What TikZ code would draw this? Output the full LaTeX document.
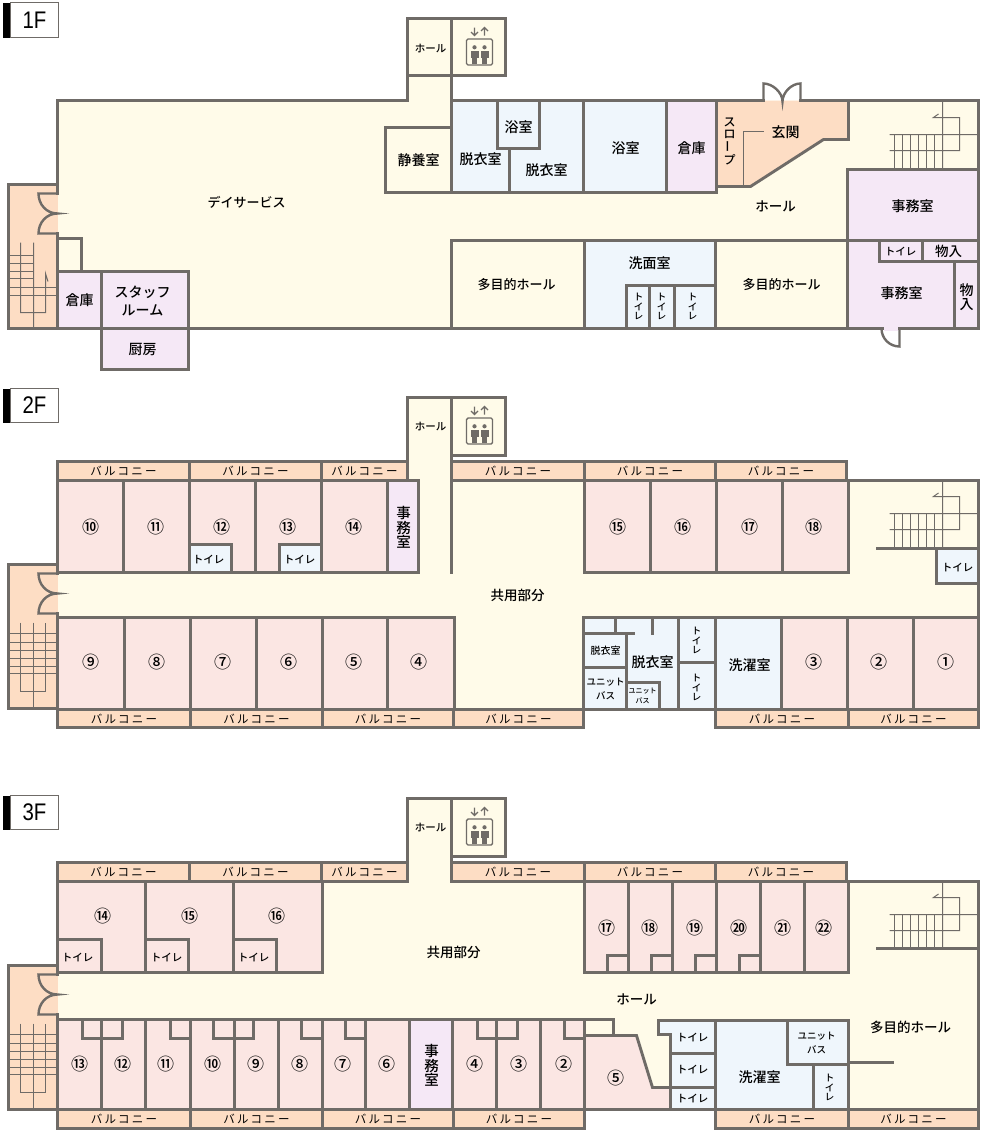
\documentclass[tikz,border=0pt]{standalone}
\usepackage{fontspec}
\setmainfont{Liberation Sans}
\newfontfamily\jp{Noto Sans CJK JP Medium}
\newfontfamily\jpb{Noto Sans CJK JP Medium}
\newfontfamily\jpwide[LetterSpace=20]{Noto Sans CJK JP}
\definecolor{wallc}{HTML}{6F6B67}
\definecolor{creamc}{HTML}{FFFBE9}
\definecolor{orangec}{HTML}{FDDDC4}
\definecolor{pinkc}{HTML}{FBE6E3}
\definecolor{purplec}{HTML}{F5E8F6}
\definecolor{bluec}{HTML}{EFF6FC}
\tikzset{
  wall/.style={draw=wallc,line width=2.9pt,line join=miter,line cap=rect},
  diagwall/.style={draw=wallc,line width=2.9pt,line join=miter,line cap=rect},
  doorline/.style={draw=wallc,line width=2.4pt,line join=miter,line cap=butt},
  thinline/.style={draw=wallc,line width=1pt},
  lbl/.style={inner sep=0pt,align=center,text=black},
  balc/.style={inner sep=0pt,text=black,font=\jpwide\fontsize{11.5}{12}\selectfont},
  flabel/.style={inner sep=0pt,font=\fontsize{24}{24}\selectfont,text=black},
}
\newcommand\lab[5]{\node[lbl,font={\jp\fontsize{#4}{#4}\selectfont}] (#1) at (#2,#3) {#5};}
\newcommand\numr[4]{\node[lbl,font={\jpb\fontsize{17}{17}\selectfont}] (#1) at (#2,#3) {#4};}
\newcommand\roomrect[5]{\draw[wall,fill=#1] (#2,#3) rectangle (#4,#5);}
\newcommand\balcony[5]{\draw[wall,fill=orangec] (#2,#3) rectangle node[balc] (#1) {バルコニー} (#4,#5);}
\newcommand\vbar{\rotatebox{90}{ー}}
% lift icon, drawn at the 1F position
\newcommand\evicon{%
  \draw[draw=wallc,line width=1.4pt,rounded corners=1.5pt] (466,38.5) rectangle (492,64.5);
  \draw[draw=wallc,line width=1.3pt] (474,27)--(474,35) (470.5,31.5)--(474,35)--(477.5,31.5);
  \draw[draw=wallc,line width=1.3pt] (484,35)--(484,27) (480.5,30.5)--(484,27)--(487.5,30.5);
  \foreach \px in {474,484}{
    \fill[wallc] (\px,46.8) circle (2.1);
    \fill[wallc] (\px-4,50) rectangle (\px+4,57);
    \fill[wallc] (\px-2.7,57) rectangle (\px+2.7,63);
  }%
}
% right-hand stairs, drawn at the 1F position
\newcommand\stairR{%
  \draw[thinline] (942,100)--(942,168) (889,134)--(978,134) (889,150)--(959,150)--(959,117)--(933,117)--(938,113.5);
  \foreach \sx in {894,902,910,918,926,934}{\draw[thinline] (\sx,134)--(\sx,168);}%
}
% left-hand stairwell walls and door, drawn at the 1F position
\newcommand\stairbox{%
  \fill[orangec] (8,184) rectangle (57,328);
  \draw[wall] (57,193)--(57,184)--(8,184)--(8,328)--(57,328)--(57,233);
  \draw[doorline] (57,193)--(38,193) .. controls (38,204) and (46,213) .. (57,213)
     .. controls (46,213) and (38,222) .. (38,233)--(57,233);
}
\newcommand\stairlinesB{%
  \draw[thinline] (20,622)--(20,691)--(45,691)--(45,622) (33,622)--(33,708);
  \foreach \sy in {633,642,650,658,666,673}{\draw[thinline] (8,\sy)--(57,\sy);}%
}
\begin{document}
\begin{tikzpicture}[x=1pt,y=-1pt]
\useasboundingbox (0,0) rectangle (984,1135);
\begin{scope}[shift={(0.5,0.5)}]

%%%%%%%%%%%%%%%%%%%%%%%%%%%% 1F
\fill[black] (2,2) rectangle (10,37);
\draw[draw=wallc,line width=.8pt,fill=white] (10,2) rectangle node[flabel] (f1) {\scalebox{0.85}[1]{1F}} (58,37);

\fill[creamc] (57,100) -- (407,100) -- (407,75) -- (451,75) -- (451,100) -- (978,100) -- (978,328) -- (57,328) -- cycle;
\stairbox
\draw[wall] (57,193)--(57,100)--(407,100)--(407,75);
\draw[wall] (451,75)--(451,100)--(763,100);
\draw[wall] (800,100)--(978,100)--(978,328)--(57,328);
\roomrect{creamc}{407}{18}{451}{75}
\roomrect{creamc}{451}{18}{505}{75}
\evicon
% left stairs
\draw[thinline] (20,242)--(20,312)--(45,312)--(45,273)--(47.5,281) (33,242)--(33,328);
\foreach \sy in {255,263,271,278}{\draw[thinline] (8,\sy)--(33,\sy);}
\foreach \sy in {287,295}{\draw[thinline] (8,\sy)--(57,\sy);}
\roomrect{creamc}{57}{238}{81}{271}
\roomrect{purplec}{57}{271}{101}{328}
\roomrect{purplec}{101}{271}{188}{328}
\roomrect{purplec}{101}{328}{188}{369}
\roomrect{creamc}{385}{127}{451}{192}
\roomrect{bluec}{451}{100}{583}{192}
\roomrect{bluec}{497}{100}{539}{148}
\draw[wall] (509,148)--(509,192);
\roomrect{bluec}{583}{100}{666}{192}
\roomrect{purplec}{666}{100}{716}{192}
% entrance
\fill[orangec] (716,100)--(848,100)--(848,139)--(823,139)--(750,186)--(716,186)--cycle;
\draw[diagwall] (763,100)--(716,100)--(716,186)--(750,186)--(823,139)--(848,139)--(848,100)--(800,100);
\draw[doorline] (763,100)--(763,83) .. controls (772,83) and (782,92) .. (782,101)
   .. controls (782,92) and (791,83) .. (800,83)--(800,100);
\draw[thinline] (743,186)--(743,131)--(763,131);
\stairR
\roomrect{purplec}{847}{169}{978}{240}
\roomrect{purplec}{847}{240}{978}{328}
\roomrect{purplec}{879}{240}{922}{261}
\roomrect{purplec}{922}{240}{978}{261}
\roomrect{purplec}{954}{261}{978}{328}
\fill[purplec] (883,326) rectangle (897,330);
\draw[doorline] (881,328) .. controls (881,338) and (889,346) .. (899,346) -- (899,328);
\roomrect{creamc}{451}{240}{584}{328}
\roomrect{bluec}{584}{240}{715}{328}
\roomrect{bluec}{626}{285}{715}{328}
\draw[wall] (649,285)--(649,328) (674,285)--(674,328);
\roomrect{creamc}{715}{240}{847}{328}

\lab{a1}{246}{202}{13}{デイサービス}
\lab{a2}{430}{48}{10.5}{ホール}
\lab{a3}{418}{160}{14}{静養室}
\lab{a4}{480}{159}{14}{脱衣室}
\lab{a5}{518}{127}{14}{浴室}
\lab{a6}{546}{170}{14}{脱衣室}
\lab{a7}{625}{148}{14}{浴室}
\lab{a8}{691}{148}{14}{倉庫}
\lab{a9}{729}{141}{12}{ス\\ロ\\\vbar\\プ}
\lab{a10}{785}{132}{14}{玄関}
\lab{a11}{775}{206}{13.5}{ホール}
\lab{a12}{912}{206}{14}{事務室}
\lab{a13}{900}{251}{10.5}{トイレ}
\lab{a14}{948}{251}{13.5}{物入}
\lab{a15}{901}{293}{14}{事務室}
\lab{a16}{966}{297}{14}{物\\入}
\lab{a17}{516}{284}{13}{多目的ホール}
\lab{a18}{649}{263}{14}{洗面室}
\lab{a19}{638}{306}{9.5}{ト\\イ\\レ}
\lab{a20}{661}{306}{9.5}{ト\\イ\\レ}
\lab{a21}{692}{306}{9.5}{ト\\イ\\レ}
\lab{a22}{781}{284}{13}{多目的ホール}
\lab{a23}{79}{300}{14}{倉庫}
\node[lbl,font={\jp\fontsize{14}{18}\selectfont}] (a24) at (142,301) {スタッフ\\ルーム};
\lab{a25}{142}{349}{14}{厨房}

%%%%%%%%%%%%%%%%%%%%%%%%%%%% 2F
\fill[black] (2,388) rectangle (10,422);
\draw[draw=wallc,line width=.8pt,fill=white] (10,388) rectangle node[flabel] (f2) {\scalebox{0.85}[1]{2F}} (58,422);

\fill[creamc] (407,397) rectangle (451,480);
\fill[creamc] (57,480) rectangle (978,709);
\begin{scope}[shift={(0,380)}]\stairbox\end{scope}
\stairlinesB
\draw[wall] (407,480)--(407,397)--(451,397)--(451,572);
\draw[wall] (847,480)--(978,480)--(978,709);
\roomrect{creamc}{451}{397}{505}{455}
\begin{scope}[shift={(0,379)}]\evicon\stairR\end{scope}
\draw[wall] (877,548)--(978,548);
\roomrect{bluec}{936}{548}{978}{583}
\balcony{b1}{57}{461}{189}{480}
\balcony{b2}{189}{461}{321}{480}
\balcony{b3}{321}{461}{407}{480}
\balcony{b4}{451}{461}{584}{480}
\balcony{b5}{584}{461}{715}{480}
\balcony{b6}{715}{461}{846}{480}
\roomrect{pinkc}{57}{480}{123}{572}
\roomrect{pinkc}{123}{480}{189}{572}
\roomrect{pinkc}{189}{480}{255}{572}
\roomrect{pinkc}{255}{480}{321}{572}
\roomrect{pinkc}{321}{480}{387}{572}
\roomrect{purplec}{387}{480}{418}{572}
\roomrect{bluec}{189}{544}{231}{572}
\roomrect{bluec}{279}{544}{321}{572}
\roomrect{pinkc}{584}{480}{650}{572}
\roomrect{pinkc}{650}{480}{716}{572}
\roomrect{pinkc}{716}{480}{782}{572}
\roomrect{pinkc}{782}{480}{848}{572}
\roomrect{pinkc}{57}{617}{124}{709}
\roomrect{pinkc}{124}{617}{190}{709}
\roomrect{pinkc}{190}{617}{256}{709}
\roomrect{pinkc}{256}{617}{322}{709}
\roomrect{pinkc}{322}{617}{387}{709}
\roomrect{pinkc}{387}{617}{454}{709}
\roomrect{bluec}{583}{617}{715}{709}
\draw[wall] (615,617)--(615,633) (652,617)--(652,633) (583,633)--(633,633) (626,633)--(626,709) (583,667)--(626,667) (678,617)--(678,709) (678,662)--(715,662);
\roomrect{bluec}{626}{682}{659}{709}
\roomrect{bluec}{715}{617}{781}{709}
\roomrect{pinkc}{781}{617}{847}{709}
\roomrect{pinkc}{847}{617}{913}{709}
\roomrect{pinkc}{913}{617}{978}{709}
\balcony{b7}{57}{709}{190}{727}
\balcony{b8}{190}{709}{322}{727}
\balcony{b9}{322}{709}{453}{727}
\balcony{b10}{453}{709}{583}{727}
\balcony{b11}{715}{709}{848}{727}
\balcony{b12}{848}{709}{978}{727}

\lab{c0}{430}{426}{10.5}{ホール}
\numr{c1}{90}{527}{⑩}
\numr{c2}{155}{527}{⑪}
\numr{c3}{221}{527}{⑫}
\numr{c4}{287}{527}{⑬}
\numr{c5}{353}{527}{⑭}
\lab{c6}{403}{527}{14.5}{事\\務\\室}
\numr{c7}{617}{527}{⑮}
\numr{c8}{682}{527}{⑯}
\numr{c9}{749}{527}{⑰}
\numr{c10}{813}{527}{⑱}
\lab{c11}{208}{559}{10.5}{トイレ}
\lab{c12}{299}{559}{10.5}{トイレ}
\lab{c13}{957}{567}{10.5}{トイレ}
\lab{c14}{517}{595}{13.5}{共用部分}
\numr{c15}{90}{662}{⑨}
\numr{c16}{156}{662}{⑧}
\numr{c17}{222}{662}{⑦}
\numr{c18}{288}{662}{⑥}
\numr{c19}{353}{662}{⑤}
\numr{c20}{418}{662}{④}
\lab{c21}{605}{650}{10}{脱衣室}
\node[lbl,font={\jp\fontsize{9.5}{14}\selectfont}] (c22) at (605,688) {ユニット\\バス};
\lab{c23}{652}{662}{14}{脱衣室}
\node[lbl,font={\jp\fontsize{7}{10}\selectfont}] (c24) at (642,695) {ユニット\\バス};
\lab{c25}{696}{640}{9.5}{ト\\イ\\レ}
\lab{c26}{696}{687}{9.5}{ト\\イ\\レ}
\lab{c27}{749}{665}{14}{洗濯室}
\numr{c28}{813}{662}{③}
\numr{c29}{878}{662}{②}
\numr{c30}{945}{662}{①}

%%%%%%%%%%%%%%%%%%%%%%%%%%%% 3F
\fill[black] (2,795) rectangle (10,829);
\draw[draw=wallc,line width=.8pt,fill=white] (10,795) rectangle node[flabel] (f3) {\scalebox{0.85}[1]{3F}} (58,829);

\fill[creamc] (407,798) rectangle (451,881);
\fill[creamc] (57,881) rectangle (978,1109);
\begin{scope}[shift={(0,781)}]\stairbox\end{scope}
\begin{scope}[shift={(0,401)}]\stairlinesB\end{scope}
\draw[wall] (407,881)--(407,798)--(451,798)--(451,881);
\draw[wall] (848,881)--(978,881)--(978,1109);
\roomrect{creamc}{451}{798}{505}{856}
\begin{scope}[shift={(0,780)}]\evicon\stairR\end{scope}
\draw[wall] (877,948)--(978,948);
\balcony{d1}{57}{862}{189}{881}
\balcony{d2}{189}{862}{321}{881}
\balcony{d3}{321}{862}{407}{881}
\balcony{d4}{451}{862}{584}{881}
\balcony{d5}{584}{862}{715}{881}
\balcony{d6}{715}{862}{846}{881}
\roomrect{pinkc}{57}{881}{145}{972}
\roomrect{pinkc}{145}{881}{233}{972}
\roomrect{pinkc}{233}{881}{322}{972}
\draw[wall] (57,939)--(101,939)--(101,972) (145,939)--(188,939)--(188,972) (233,939)--(276,939)--(276,972);
\roomrect{pinkc}{584}{881}{628}{972}
\roomrect{pinkc}{628}{881}{672}{972}
\roomrect{pinkc}{672}{881}{716}{972}
\roomrect{pinkc}{716}{881}{760}{972}
\roomrect{pinkc}{760}{881}{804}{972}
\roomrect{pinkc}{804}{881}{848}{972}
\draw[wall] (607,972)--(607,955)--(628,955) (651,972)--(651,955)--(672,955) (695,972)--(695,955)--(716,955) (739,972)--(739,955)--(760,955);
\roomrect{pinkc}{57}{1019}{101}{1109}
\roomrect{pinkc}{101}{1019}{145}{1109}
\roomrect{pinkc}{145}{1019}{190}{1109}
\roomrect{pinkc}{190}{1019}{234}{1109}
\roomrect{pinkc}{234}{1019}{278}{1109}
\roomrect{pinkc}{278}{1019}{322}{1109}
\roomrect{pinkc}{322}{1019}{365}{1109}
\roomrect{pinkc}{365}{1019}{409}{1109}
\roomrect{purplec}{409}{1019}{452}{1109}
\roomrect{pinkc}{452}{1019}{496}{1109}
\roomrect{pinkc}{496}{1019}{540}{1109}
\roomrect{pinkc}{540}{1019}{584}{1109}
\draw[wall] (82,1019)--(82,1038)--(122,1038)--(122,1019) (170,1019)--(170,1038)--(190,1038) (213,1019)--(213,1038)--(253,1038)--(253,1019) (301,1019)--(301,1038)--(322,1038) (345,1019)--(345,1038)--(365,1038) (477,1019)--(477,1038)--(517,1038)--(517,1019) (564,1019)--(564,1038)--(584,1038);
\roomrect{creamc}{584}{1019}{613}{1035}
\draw[diagwall,fill=pinkc] (584,1035)--(636,1035)--(652,1087)--(670,1087)--(670,1109)--(584,1109)--cycle;
\draw[wall,fill=bluec] (658,1020)--(715,1020)--(715,1109)--(670,1109)--(670,1034)--(658,1034)--cycle;
\draw[wall] (670,1053)--(715,1053) (670,1087)--(715,1087);
\roomrect{bluec}{715}{1020}{848}{1109}
\roomrect{bluec}{787}{1020}{848}{1064}
\roomrect{bluec}{813}{1064}{848}{1109}
\draw[wall] (848,1062)--(892,1062);
\balcony{d7}{57}{1109}{190}{1128}
\balcony{d8}{190}{1109}{322}{1128}
\balcony{d9}{322}{1109}{453}{1128}
\balcony{d10}{453}{1109}{584}{1128}
\balcony{d11}{715}{1109}{848}{1128}
\balcony{d12}{848}{1109}{978}{1128}

\lab{e0}{430}{827}{10.5}{ホール}
\numr{e1}{102}{916}{⑭}
\numr{e2}{189}{916}{⑮}
\numr{e3}{276}{916}{⑯}
\lab{e4}{77}{957}{10.5}{トイレ}
\lab{e5}{166}{957}{10.5}{トイレ}
\lab{e6}{253}{957}{10.5}{トイレ}
\lab{e7}{453}{952}{13.5}{共用部分}
\lab{e8}{636}{999}{13.5}{ホール}
\numr{e9}{606}{928}{⑰}
\numr{e10}{649}{928}{⑱}
\numr{e11}{694}{928}{⑲}
\numr{e12}{738}{928}{⑳}
\numr{e13}{782}{928}{㉑}
\numr{e14}{823}{928}{㉒}
\numr{e15}{79}{1064}{⑬}
\numr{e16}{122}{1064}{⑫}
\numr{e17}{165}{1064}{⑪}
\numr{e18}{212}{1064}{⑩}
\numr{e19}{255}{1064}{⑨}
\numr{e20}{299}{1064}{⑧}
\numr{e21}{342}{1064}{⑦}
\numr{e22}{386}{1064}{⑥}
\lab{e23}{431}{1065}{14.5}{事\\務\\室}
\numr{e24}{474}{1064}{④}
\numr{e25}{518}{1064}{③}
\numr{e26}{563}{1064}{②}
\numr{e27}{615}{1078}{⑤}
\lab{e28}{692}{1037}{10.5}{トイレ}
\lab{e29}{692}{1069}{10.5}{トイレ}
\lab{e30}{692}{1098}{10.5}{トイレ}
\lab{e31}{759}{1077}{14}{洗濯室}
\node[lbl,font={\jp\fontsize{9.5}{14}\selectfont}] (e32) at (816,1042) {ユニット\\バス};
\lab{e33}{829}{1087}{9.5}{ト\\イ\\レ}
\lab{e34}{910}{1027}{13.5}{多目的ホール}
\end{scope}
\end{tikzpicture}
\end{document}
